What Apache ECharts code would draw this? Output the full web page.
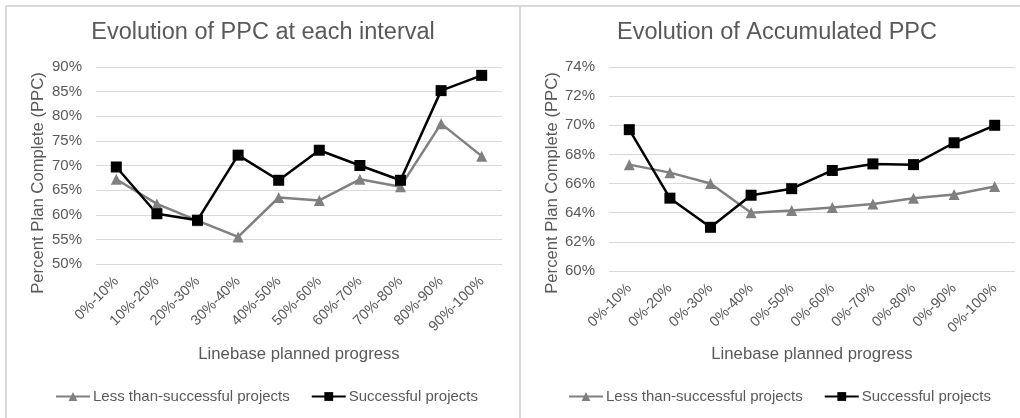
<!DOCTYPE html>
<html>
<head>
<meta charset="utf-8">
<script src="https://cdn.jsdelivr.net/npm/echarts@6/dist/echarts.min.js"></script>
<style>
  html, body { margin: 0; padding: 0; background: #ffffff; }
  #chart { width: 1020px; height: 418px; }
</style>
</head>
<body>
<div id="chart"></div>
<script>
// Categories for each panel
const intervalCategories = ['0%-10%', '10%-20%', '20%-30%', '30%-40%', '40%-50%', '50%-60%', '60%-70%', '70%-80%', '80%-90%', '90%-100%'];
const accumulatedCategories = ['0%-10%', '0%-20%', '0%-30%', '0%-40%', '0%-50%', '0%-60%', '0%-70%', '0%-80%', '0%-90%', '0%-100%'];

// PPC per interval (%)
const intervalLessSuccessful = [67.2, 62.2, 58.8, 55.5, 63.5, 62.9, 67.2, 65.7, 78.5, 71.9];
const intervalSuccessful = [69.7, 60.2, 58.9, 72.1, 67.0, 73.1, 70.0, 67.0, 85.2, 88.3];

// Accumulated PPC (%)
const accumulatedLessSuccessful = [67.3, 66.75, 66.0, 64.0, 64.15, 64.35, 64.6, 65.0, 65.25, 65.8];
const accumulatedSuccessful = [69.7, 65.0, 63.0, 65.2, 65.65, 66.9, 67.35, 67.3, 68.8, 70.0];

const seriesNames = ['Less than-successful projects', 'Successful projects'];
const titles = ['Evolution of PPC at each interval', 'Evolution of Accumulated PPC'];
const yAxisTitle = 'Percent Plan Complete (PPC)';
const xAxisTitle = 'Linebase planned progress';

const FONT = '"Liberation Sans", Arial, Helvetica, sans-serif';
const TEXT = '#595959';
const GRID_LINE = '#d9d9d9';
const GRAY = '#808080';
const BLACK = '#000000';

const chart = echarts.init(document.getElementById('chart'), null, { renderer: 'canvas' });

function xAxisFor(gridIndex, data, gap) {
  return {
    type: 'category', gridIndex, data,
    boundaryGap: true,
    axisLine: { show: false },
    axisTick: { show: false },
    axisLabel: { rotate: 45, color: TEXT, fontFamily: FONT, fontSize: 14.5, margin: 15, interval: 0 },
    name: xAxisTitle, nameLocation: 'middle', nameGap: gap,
    nameTextStyle: { color: TEXT, fontFamily: FONT, fontSize: 16.7 }
  };
}

function yAxisFor(gridIndex, min, max, interval) {
  return {
    type: 'value', gridIndex, min, max, interval,
    axisLine: { show: false },
    axisTick: { show: false },
    axisLabel: { formatter: '{value}%', color: TEXT, fontFamily: FONT, fontSize: 15, margin: 14 },
    splitLine: { lineStyle: { color: GRID_LINE, width: 1 } }
  };
}

function lineSeries(name, data, idx, color, symbol, size) {
  return {
    name, type: 'line', data,
    xAxisIndex: idx, yAxisIndex: idx,
    symbol, symbolSize: size, showAllSymbol: true,
    lineStyle: { color, width: 2.5 },
    itemStyle: { color, borderWidth: 0 },
    emphasis: { disabled: true },
    animation: false
  };
}

const legendStyle = {
  orient: 'horizontal', padding: 0, itemWidth: 34, itemHeight: 11, itemGap: 21,
  textStyle: { color: TEXT, fontFamily: FONT, fontSize: 15, padding: [0, 0, 0, -2] },
  data: seriesNames
};

chart.setOption({
  backgroundColor: '#ffffff',
  animation: false,
  grid: [
    { left: 96, right: 518, top: 67, bottom: 154 },
    { left: 609, right: 5, top: 67, bottom: 147 }
  ],
  xAxis: [
    xAxisFor(0, intervalCategories, 82),
    xAxisFor(1, accumulatedCategories, 75)
  ],
  yAxis: [
    yAxisFor(0, 50, 90, 5),
    yAxisFor(1, 60, 74, 2)
  ],
  legend: [
    Object.assign({ left: 55, top: 389 }, legendStyle),
    Object.assign({ left: 568, top: 389 }, legendStyle)
  ],
  series: [
    lineSeries(seriesNames[0], intervalLessSuccessful, 0, GRAY, 'triangle', 11),
    lineSeries(seriesNames[1], intervalSuccessful, 0, BLACK, 'rect', 11),
    lineSeries(seriesNames[0], accumulatedLessSuccessful, 1, GRAY, 'triangle', 11),
    lineSeries(seriesNames[1], accumulatedSuccessful, 1, BLACK, 'rect', 11)
  ],
  graphic: [
    // panel frames
    { type: 'line', shape: { x1: 6, y1: 6, x2: 1020, y2: 6 }, style: { stroke: GRID_LINE, lineWidth: 2 }, silent: true },
    { type: 'line', shape: { x1: 6, y1: 6, x2: 6, y2: 418 }, style: { stroke: GRID_LINE, lineWidth: 2 }, silent: true },
    { type: 'line', shape: { x1: 520, y1: 6, x2: 520, y2: 418 }, style: { stroke: GRID_LINE, lineWidth: 2 }, silent: true },
    // chart titles
    { type: 'text', x: 263, y: 33, silent: true,
      style: { text: titles[0], fill: TEXT, font: '23.5px ' + FONT, align: 'center', verticalAlign: 'middle' } },
    { type: 'text', x: 777, y: 33, silent: true,
      style: { text: titles[1], fill: TEXT, font: '23.5px ' + FONT, align: 'center', verticalAlign: 'middle' } },
    // vertical axis titles
    { type: 'text', x: 38, y: 183, rotation: Math.PI / 2, silent: true,
      style: { text: yAxisTitle, fill: TEXT, font: '16.7px ' + FONT, align: 'center', verticalAlign: 'middle' } },
    { type: 'text', x: 552, y: 183, rotation: Math.PI / 2, silent: true,
      style: { text: yAxisTitle, fill: TEXT, font: '16.7px ' + FONT, align: 'center', verticalAlign: 'middle' } }
  ]
});
</script>
</body>
</html>
